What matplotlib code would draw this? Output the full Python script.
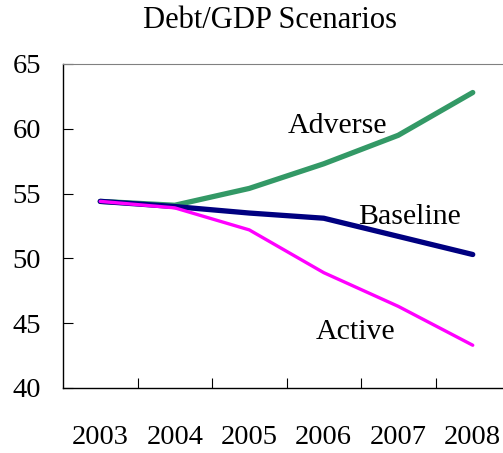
import matplotlib
matplotlib.use('Agg')
import matplotlib.pyplot as plt
import numpy as np

plt.rcParams['font.family'] = ['Liberation Serif', 'DejaVu Serif']

# data
years = ['2003', '2004', '2005', '2006', '2007', '2008']
baseline = [54.4, 54.0, 53.5, 53.1, 51.7, 50.3]
adverse = [54.4, 54.1, 55.4, 57.3, 59.5, 62.8]
active = [54.4, 53.9, 52.2, 48.9, 46.3, 43.3]

fig = plt.figure(figsize=(5.03, 4.53), dpi=100)
ax = fig.add_axes([63/503, 65/453, 447/503, 324/453])

x = np.arange(len(years))
ax.plot(x, adverse, color='#339966', lw=3.8, solid_capstyle='round')
ax.plot(x, baseline, color='#000080', lw=3.8, solid_capstyle='round')
ax.plot(x, active, color='#FF00FF', lw=2.4, solid_capstyle='round')

ax.set_xlim(-0.5, len(years) - 0.5)
ax.set_ylim(40, 65)

# ticks at category boundaries, labels at category centres
ax.set_xticks(np.arange(0.5, len(years) - 0.5, 1.0))
ax.set_xticklabels([])
ax.set_xticks(x, minor=True)
ax.set_xticklabels(years, minor=True, fontsize=20.5)
ax.tick_params(axis='x', which='major', direction='in', length=7.2, width=0.8)
ax.tick_params(axis='x', which='minor', length=0, pad=27)

ax.set_yticks([40, 45, 50, 55, 60, 65])
ax.tick_params(axis='y', direction='in', length=7.2, width=0.8, labelsize=20.5, pad=16)

ax.spines['top'].set_color('#808080')
ax.spines['right'].set_visible(False)
ax.spines['left'].set_linewidth(1.0)
ax.spines['bottom'].set_linewidth(1.0)

ax.text(3.19, 60.25, 'Adverse', fontsize=21.5, ha='center', va='center')
ax.text(4.15, 53.2, 'Baseline', fontsize=21.5, ha='center', va='center')
ax.text(3.42, 44.3, 'Active', fontsize=21.5, ha='center', va='center')

fig.text(270/503, 1 - 21/453, 'Debt/GDP Scenarios', fontsize=22, ha='center', va='center')

fig.savefig('out.png', dpi=100)
